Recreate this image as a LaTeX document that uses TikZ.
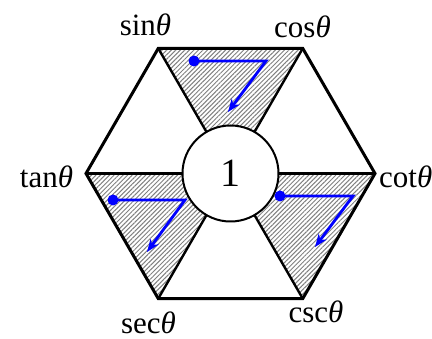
\documentclass[tikz,border=0pt]{standalone}
\usepackage{fontspec}
\setmainfont{Liberation Serif}
\usetikzlibrary{patterns.meta,arrows.meta}
\tikzset{
  hatch/.style={pattern={Lines[angle=45,distance=3.2pt,line width=1pt]},pattern color=gray},
  hexline/.style={line width=3pt,line join=miter},
  spoke/.style={line width=2.4pt},
  bluearrow/.style={blue,line width=2.8pt,-{Stealth[length=13pt,width=10pt]}},
  bluedot/.style={circle,fill=blue,inner sep=0pt,minimum size=11pt},
  lbl/.style={font=\fontsize{31}{33}\selectfont,inner sep=0pt}
}
\begin{document}
\begin{tikzpicture}[x=1pt,y=-1pt]
\useasboundingbox (0,0) rectangle (432,339);
\coordinate (O) at (230.5,173.5);
\coordinate (S) at (158.25,48.4);
\coordinate (C) at (302.75,48.4);
\coordinate (T) at (86,173.5);
\coordinate (K) at (375,173.5);
\coordinate (E) at (158.25,298.6);
\coordinate (Q) at (302.75,298.6);
% hatched triangles
\fill[hatch] (S) -- (C) -- (O) -- cycle;
\fill[hatch] (T) -- (E) -- (O) -- cycle;
\fill[hatch] (K) -- (Q) -- (O) -- cycle;
% spokes
\draw[spoke] (S) -- (Q);
\draw[spoke] (C) -- (E);
\draw[spoke] (T) -- (K);
% hexagon
\draw[hexline] (S) -- (C) -- (K) -- (Q) -- (E) -- (T) -- cycle;
% circle
\node[circle,draw,line width=2pt,fill=white,minimum size=96pt,inner sep=0pt,font=\fontsize{40}{42}\selectfont] (one) at (O) {1};
% blue arrows
\coordinate (a1) at (194,61); \coordinate (b1) at (266,61); \coordinate (c1) at (228,112);
\coordinate (a2) at (113,200); \coordinate (b2) at (185,200); \coordinate (c2) at (147,252);
\coordinate (a3) at (280,196); \coordinate (b3) at (353,196); \coordinate (c3) at (315,247);
\draw[bluearrow] (a1) -- (b1) -- (c1);
\draw[bluearrow] (a2) -- (b2) -- (c2);
\draw[bluearrow] (a3) -- (b3) -- (c3);
\node[bluedot] (d1) at (a1) {};
\node[bluedot] (d2) at (a2) {};
\node[bluedot] (d3) at (a3) {};
% labels
\node[lbl,anchor=base] (lsin) at (145.5,36) {sin\textit{θ}};
\node[lbl,anchor=base] (lcos) at (302.5,38) {cos\textit{θ}};
\node[lbl,anchor=base] (ltan) at (46.5,188) {tan\textit{θ}};
\node[lbl,anchor=base west] (lcot) at (379,188) {cot\textit{θ}};
\node[lbl,anchor=base] (lsec) at (148.5,334) {sec\textit{θ}};
\node[lbl,anchor=base] (lcsc) at (316,323) {csc\textit{θ}};
\end{tikzpicture}
\end{document}
